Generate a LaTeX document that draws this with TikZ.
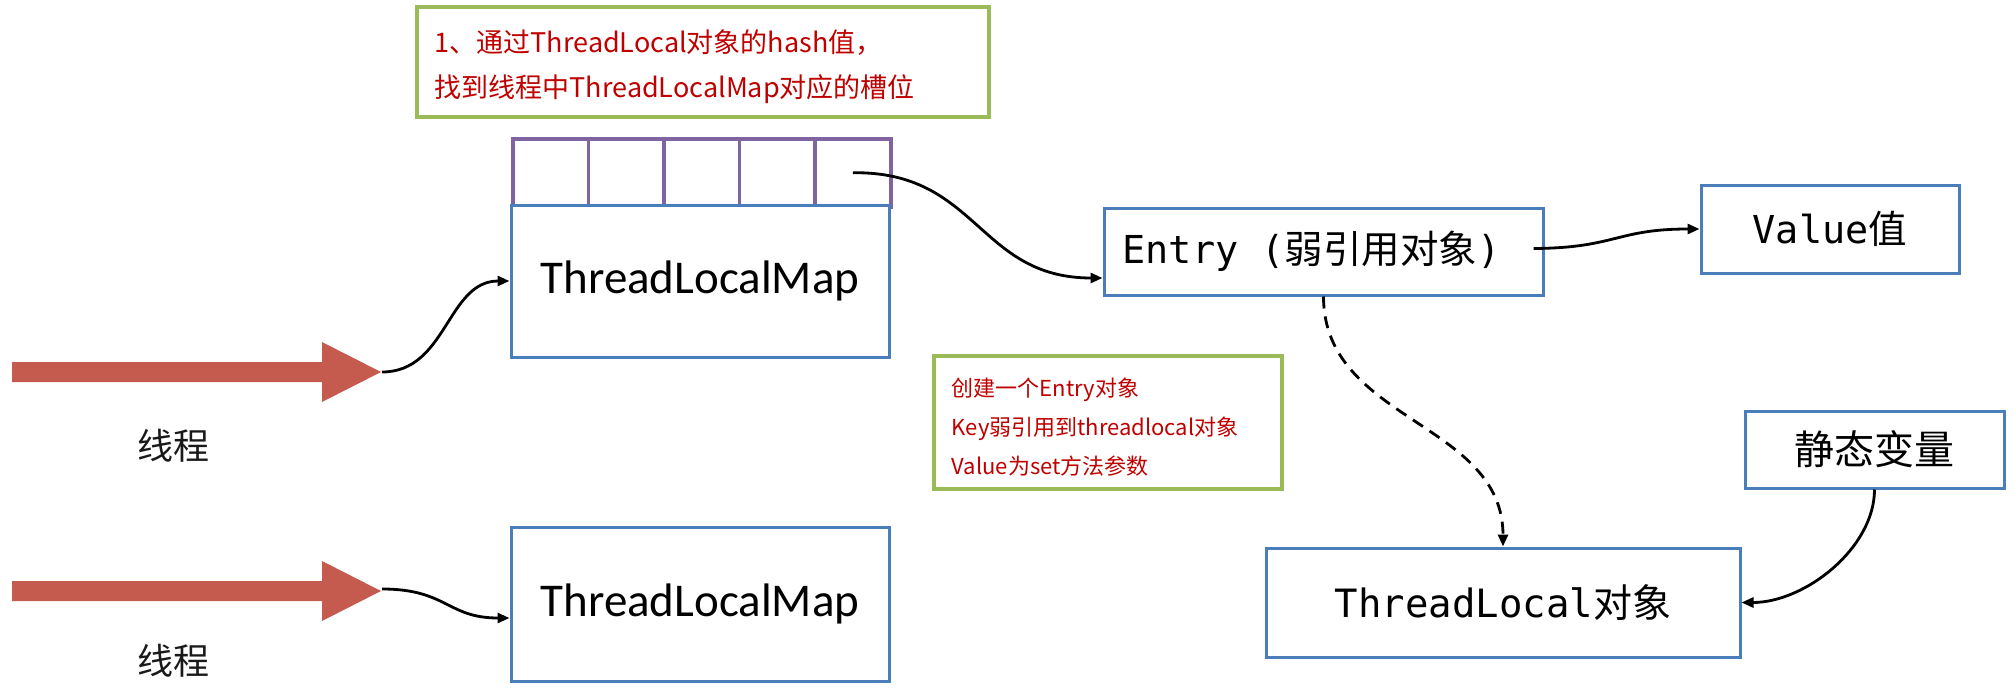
\documentclass[tikz,border=0pt]{standalone}
\usepackage{fontspec}
\setmainfont{Carlito}
\newfontfamily\cjk{Noto Sans CJK SC}
\newfontfamily\mono{DejaVu Sans Mono}
\usetikzlibrary{arrows.meta}
\newcommand\fsz[2]{\fontsize{#1pt}{#2pt}\selectfont}
\newcommand\dropby[2]{\raisebox{-#1}[\height][\depth]{#2}}
\definecolor{boxblue}{HTML}{4A7EBB}
\definecolor{slotpurple}{HTML}{8064A2}
\definecolor{notegreen}{HTML}{9BBB59}
\definecolor{notered}{HTML}{C00000}
\definecolor{arrowred}{HTML}{C55A4E}
\tikzset{
  bluebox/.style={draw=boxblue, line width=3pt, fill=white, inner sep=0pt},
  slotbox/.style={draw=slotpurple, line width=3.5pt, inner sep=0pt, minimum width=75.6pt, minimum height=68pt, anchor=north west},
  notebox/.style={draw=notegreen, line width=3.5pt, fill=white, text=notered, inner sep=0pt, anchor=north west},
  conn/.style={black, line width=2.8pt, -{Triangle[length=12pt,width=10pt]}},
  dashconn/.style={conn, dash pattern=on 12pt off 8pt},
  lbl/.style={font=\cjk\fsz{36}{40}, text=black!90}
}
\begin{document}
\begin{tikzpicture}[x=1pt,y=-1pt]
\useasboundingbox (0,0) rectangle (2014,696);

% top note
\node[notebox, minimum width=572pt, minimum height=110pt, font=\cjk\fsz{27}{45}] (n1) at (415,5)
  {\dropby{5pt}{\parbox{536pt}{\raggedright 1、通过ThreadLocal对象的hash值，\\找到线程中ThreadLocalMap对应的槽位}}};

% slots
\foreach \i in {0,...,4} {
  \node[slotbox] (s\i) at ({511+75.6*\i},137) {};
}

% maps
\node[bluebox, minimum width=378pt, minimum height=152pt, font=\fsz{47}{50}] (map1) at (700,281) {ThreadLocalMap};
\node[bluebox, minimum width=378pt, minimum height=154pt, font=\fsz{47}{50}] (map2) at (700,604) {ThreadLocalMap};

% red thread arrows
\fill[arrowred] (12,362) -- (322,362) -- (322,342) -- (381,372) -- (322,402) -- (322,382) -- (12,382) -- cycle;
\fill[arrowred] (12,581) -- (322,581) -- (322,561) -- (381,591) -- (322,621) -- (322,601) -- (12,601) -- cycle;
\coordinate (t1) at (382,372);
\coordinate (t2) at (382,589);
\node[lbl] (th1) at (173,446) {线程};
\node[lbl] (th2) at (173,661) {线程};

% entry, value
\node[bluebox, minimum width=439pt, minimum height=87pt, font=\fsz{38.5}{42}] (entry) at (1323.5,251.5)
  {\hspace*{-24pt}{\mono Entry (}{\cjk 弱引用对象}{\mono )}};
\node[bluebox, minimum width=258pt, minimum height=88pt, font=\fsz{38.5}{42}] (value) at (1830,229)
  {{\mono Value}{\cjk 值}};

% second note
\node[notebox, minimum width=348pt, minimum height=133pt, font=\cjk\fsz{22}{39}] (n2) at (932,354)
  {\dropby{5pt}{\parbox{312pt}{\raggedright 创建一个Entry对象\\Key弱引用到threadlocal对象\\Value为set方法参数}}};

% static var, threadlocal object
\node[bluebox, minimum width=259pt, minimum height=77pt, font=\cjk\fsz{40}{44}] (static) at (1874.5,449.5) {静态变量};
\node[bluebox, minimum width=474pt, minimum height=109pt, font=\fsz{39}{42}] (tl) at (1503,602.5)
  {{\mono ThreadLocal}{\cjk 对象}};

% connectors
\draw[conn] (t1) .. controls (447,372) and (447,281) .. (map1.west);
\draw[conn] (t2) .. controls (447,589) and (447,618) .. ([yshift=-14pt]map2.west);
\draw[conn] (s4.center) .. controls (978,171) and (978,278) .. ([yshift=-26.5pt]entry.west);
\draw[conn] ([xshift=-11pt,yshift=3pt]entry.east) .. controls (1616,248) and (1616,229) .. (value.west);
\draw[dashconn] (entry.south) .. controls (1323.5,421.5) and (1503,421.5) .. (tl.north);
\draw[conn] (static.south) .. controls (1874.5,548) and (1805,602.5) .. (tl.east);
\end{tikzpicture}
\end{document}
